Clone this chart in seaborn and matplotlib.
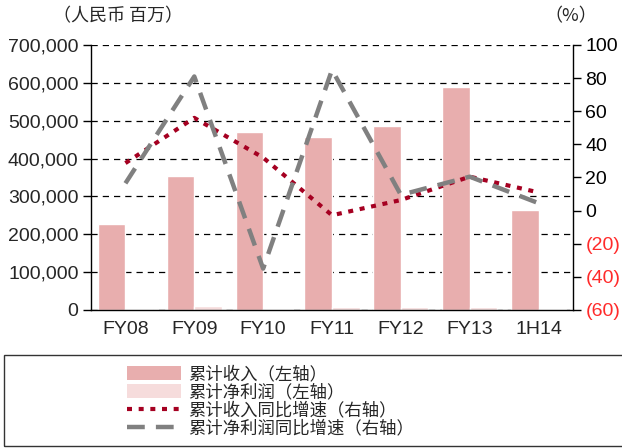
import matplotlib
matplotlib.use("Agg")
import numpy as np
import pandas as pd
import matplotlib.pyplot as plt
import seaborn as sns
from matplotlib.patches import Rectangle, Patch
from matplotlib.lines import Line2D
from matplotlib.ticker import FixedLocator

periods = ["FY08", "FY09", "FY10", "FY11", "FY12", "FY13", "1H14"]
revenue = [228000, 355000, 469000, 456000, 485000, 589000, 263000]
net_profit = [3000, 10000, 3000, 9000, 9000, 9000, 1500]
revenue_growth = [28.7, 56.0, 32.0, -2.8, 6.4, 20.5, 11.0]
profit_growth = [16.5, 81.0, -35.0, 85.0, 9.5, 20.5, 4.5]
right_ticks = [-60, -40, -20, 0, 20, 40, 60, 80, 100]

series_names = ["累计收入（左轴）", "累计净利润（左轴）",
                "累计收入同比增速（右轴）", "累计净利润同比增速（右轴）"]

sns.set_style("white")
cjk = ["Noto Sans CJK SC", "DejaVu Sans"]
num_font = ["Liberation Sans Narrow", "Liberation Sans", "DejaVu Sans"]
plt.rcParams["font.family"] = num_font

c_rev = "#e8aeae"
c_net = "#f6dcdc"
c_rev_g = "#a50021"
c_net_g = "#808080"

bars = pd.DataFrame({
    "period": periods * 2,
    "value": revenue + net_profit,
    "series": [series_names[0]] * len(periods) + [series_names[1]] * len(periods),
})
lines = pd.DataFrame({
    "pos": np.arange(len(periods)),
    "rev_g": revenue_growth,
    "net_g": profit_growth,
})

fig = plt.figure(figsize=(6.22, 4.48), dpi=100)
ax = fig.add_axes([91 / 622, 1 - 310 / 448, (573 - 91) / 622, (310 - 45) / 448])

sns.barplot(data=bars, x="period", y="value", hue="series", order=periods,
            palette=[c_rev, c_net], saturation=1, width=0.8, ax=ax, legend=False)
ax.set_xlim(-0.5, len(periods) - 0.5)
ax.set_ylim(0, 700000)
ax.set_yticks(np.arange(0, 700001, 100000))
ax.set_yticklabels([f"{v:,}" for v in np.arange(0, 700001, 100000)], fontsize=14)
ax.set_xticks(np.arange(len(periods)))
ax.set_xticklabels(periods, fontsize=14)
ax.xaxis.set_minor_locator(FixedLocator(np.arange(0.5, len(periods) - 0.5, 1)))
ax.tick_params(axis="x", which="major", length=0, pad=8)
ax.tick_params(axis="x", which="minor", length=6, width=1, direction="out", color="black")
ax.tick_params(axis="y", length=6, width=1, direction="out", color="black", pad=3)
ax.set_xlabel("")
ax.set_ylabel("")
ax.yaxis.grid(True, color="black", linestyle=(0, (5, 4)), linewidth=0.9)
ax.set_axisbelow(True)
for side in ["left", "bottom"]:
    ax.spines[side].set_color("black")
    ax.spines[side].set_linewidth(1)
ax.spines["top"].set_visible(False)
ax.spines["right"].set_visible(False)

ax2 = ax.twinx()
sns.lineplot(data=lines, x="pos", y="rev_g", ax=ax2, color=c_rev_g, linewidth=3,
             linestyle=(0, (1.2, 1.6)))
sns.lineplot(data=lines, x="pos", y="net_g", ax=ax2, color=c_net_g, linewidth=3.2,
             linestyle=(0, (4, 2.5)))
ax2.set_ylim(-60, 100)
ax2.set_yticks(right_ticks)
ax2.set_yticklabels([f"({-t})" if t < 0 else f"{t}" for t in right_ticks], fontsize=14)
for t, lab in zip(right_ticks, ax2.get_yticklabels()):
    lab.set_color("#ff2a2a" if t < 0 else "black")
ax2.tick_params(axis="y", length=6, width=1, direction="out", color="black", pad=3)
ax2.set_ylabel("")
ax2.set_xlabel("")
ax2.spines["right"].set_color("black")
ax2.spines["right"].set_linewidth(1)
for side in ["top", "left", "bottom"]:
    ax2.spines[side].set_visible(False)
ax2.grid(False)

fig.text(53 / 622, 1 - 16 / 448, "（人民币 百万）", family=cjk, fontsize=13,
         va="center", ha="left")
fig.text(544 / 622, 1 - 16 / 448, "（%）", family=cjk, fontsize=13,
         va="center", ha="left")

fig.patches.append(Rectangle((4 / 622, 2 / 448), 1.0, 91 / 448, transform=fig.transFigure,
                             fill=False, edgecolor="#333333", linewidth=1))

handles = [
    Patch(facecolor=c_rev, edgecolor="none"),
    Patch(facecolor=c_net, edgecolor="none"),
    Line2D([], [], color=c_rev_g, linewidth=3, linestyle=(0, (1.2, 1.6))),
    Line2D([], [], color=c_net_g, linewidth=3.2, linestyle=(0, (4, 2.5))),
]
fig.legend(handles, series_names, loc="upper left",
           bbox_to_anchor=(127 / 622, 1 - 365 / 448), frameon=False,
           prop={"family": cjk, "size": 12.5}, borderpad=0, handlelength=3.1,
           handleheight=0.85, handletextpad=0.4, labelspacing=0.0, borderaxespad=0)

fig.savefig("out.png", dpi=100)
